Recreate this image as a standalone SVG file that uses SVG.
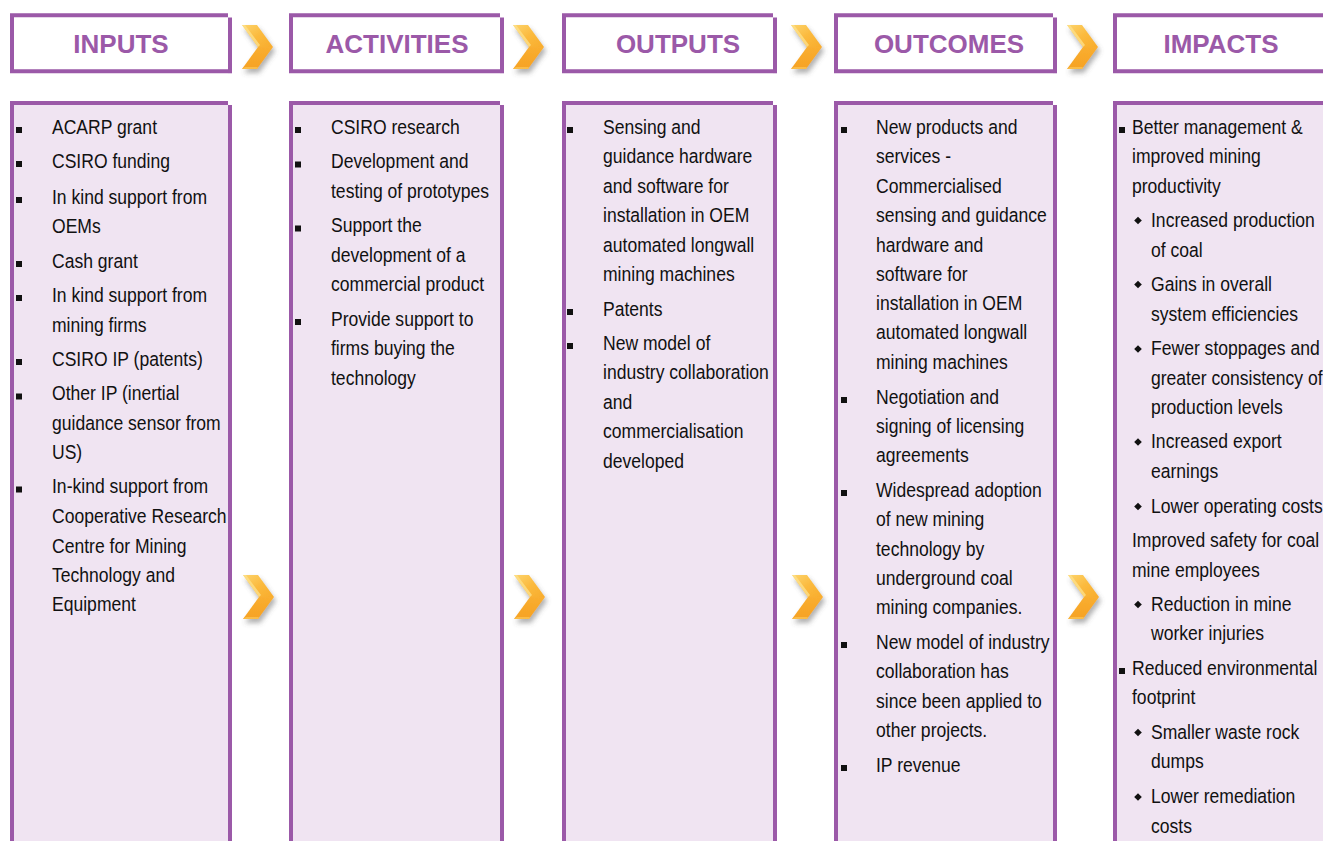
<svg xmlns="http://www.w3.org/2000/svg" width="1323" height="841" viewBox="0 0 1323 841">
<style>
.hb{fill:#ffffff;stroke:#9B59A8;stroke-width:4}
.bb{fill:#F0E4F2;stroke:none}
.ln{stroke:#9B59A8;stroke-width:4;fill:none}
.ht{font-family:"Liberation Sans",Arial,sans-serif;font-weight:bold;font-size:26px;fill:#9B59A8;text-anchor:middle}
.t{font-family:"Liberation Sans",Arial,sans-serif;font-size:19.5px;fill:#111111}
.sq{fill:#111111}
</style>
<defs>
<linearGradient id="gUp" x1="0" y1="0" x2="1" y2="1">
<stop offset="0" stop-color="#FDD46C"/>
<stop offset="0.5" stop-color="#FBBA3E"/>
<stop offset="1" stop-color="#F8AC2C"/>
</linearGradient>
<linearGradient id="gLo" x1="0" y1="0" x2="0" y2="1">
<stop offset="0" stop-color="#F9AE30"/>
<stop offset="1" stop-color="#F6A224"/>
</linearGradient>
<filter id="sh" x="-40%" y="-30%" width="180%" height="170%">
<feDropShadow dx="2" dy="4" stdDeviation="2.5" flood-color="#555555" flood-opacity="0.45"/>
</filter>
<g id="chev">
<g filter="url(#sh)">
<polygon points="0,0 15,0 31,22 16,22" fill="url(#gUp)"/>
<polygon points="16,22 31,22 15,44 0,44" fill="url(#gLo)"/>
<polygon points="0,0 3,0 18,20 16,22" fill="#FDE08A" opacity="0.8"/>
<polygon points="0,44 15,44 16,42 3,42" fill="#FCC857" opacity="0.7"/>
</g>
</g>
<polygon id="dm" points="0,-3.8 3.8,0 0,3.8 -3.8,0" fill="#111111"/>
</defs>
<rect width="1323" height="841" fill="#ffffff"/>

<g id="inputs">
<path class="hb" d="M228,15.3 H12 V71.3 H228"/>
<line class="ln" x1="230" y1="17.5" x2="230" y2="73.3"/>
<text class="ht" x="121" y="53">INPUTS</text>
<rect class="bb" x="12" y="103" width="216" height="740"/>
<path class="ln" d="M228,103 H12 V843"/>
<line class="ln" x1="230" y1="105" x2="230" y2="843"/>
<g class="sq">
<rect x="16" y="127" width="6" height="6"/>
<rect x="16" y="161" width="6" height="6"/>
<rect x="16" y="197" width="6" height="6"/>
<rect x="16" y="261" width="6" height="6"/>
<rect x="16" y="295" width="6" height="6"/>
<rect x="16" y="359" width="6" height="6"/>
<rect x="16" y="393.5" width="6" height="6"/>
<rect x="16" y="486.5" width="6" height="6"/>
</g>
<g transform="translate(52,0) scale(0.9,1)">
<text class="t" x="0" y="134">ACARP grant</text>
<text class="t" x="0" y="168">CSIRO funding</text>
<text class="t" x="0" y="204">In kind support from</text>
<text class="t" x="0" y="233">OEMs</text>
<text class="t" x="0" y="268">Cash grant</text>
<text class="t" x="0" y="302">In kind support from</text>
<text class="t" x="0" y="332">mining firms</text>
<text class="t" x="0" y="366">CSIRO IP (patents)</text>
<text class="t" x="0" y="400.5">Other IP (inertial</text>
<text class="t" x="0" y="430">guidance sensor from</text>
<text class="t" x="0" y="459">US)</text>
<text class="t" x="0" y="493.5">In-kind support from</text>
<text class="t" x="0" y="523.5">Cooperative Research</text>
<text class="t" x="0" y="553">Centre for Mining</text>
<text class="t" x="0" y="582">Technology and</text>
<text class="t" x="0" y="611">Equipment</text>
</g>
</g>

<g id="activities">
<path class="hb" d="M500,15.3 H291 V71.3 H500"/>
<line class="ln" x1="502" y1="17.5" x2="502" y2="73.3"/>
<text class="ht" x="397" y="53">ACTIVITIES</text>
<rect class="bb" x="291" y="103" width="209" height="740"/>
<path class="ln" d="M500,103 H291 V843"/>
<line class="ln" x1="502" y1="105" x2="502" y2="843"/>
<g class="sq">
<rect x="295" y="127" width="6" height="6"/>
<rect x="295" y="161.5" width="6" height="6"/>
<rect x="295" y="225.5" width="6" height="6"/>
<rect x="295" y="319" width="6" height="6"/>
</g>
<g transform="translate(331,0) scale(0.9,1)">
<text class="t" x="0" y="134">CSIRO research</text>
<text class="t" x="0" y="168.5">Development and</text>
<text class="t" x="0" y="198">testing of prototypes</text>
<text class="t" x="0" y="232.5">Support the</text>
<text class="t" x="0" y="262">development of a</text>
<text class="t" x="0" y="291.5">commercial product</text>
<text class="t" x="0" y="326">Provide support to</text>
<text class="t" x="0" y="355.5">firms buying the</text>
<text class="t" x="0" y="385">technology</text>
</g>
</g>

<g id="outputs">
<path class="hb" d="M773,15.3 H564 V71.3 H773"/>
<line class="ln" x1="775" y1="17.5" x2="775" y2="73.3"/>
<text class="ht" x="678" y="53">OUTPUTS</text>
<rect class="bb" x="564" y="103" width="209" height="740"/>
<path class="ln" d="M773,103 H564 V843"/>
<line class="ln" x1="775" y1="105" x2="775" y2="843"/>
<g class="sq">
<rect x="567" y="127" width="6" height="6"/>
<rect x="567" y="309" width="6" height="6"/>
<rect x="567" y="343" width="6" height="6"/>
</g>
<g transform="translate(603,0) scale(0.9,1)">
<text class="t" x="0" y="134">Sensing and</text>
<text class="t" x="0" y="163.5">guidance hardware</text>
<text class="t" x="0" y="193">and software for</text>
<text class="t" x="0" y="222.5">installation in OEM</text>
<text class="t" x="0" y="252">automated longwall</text>
<text class="t" x="0" y="281.5">mining machines</text>
<text class="t" x="0" y="316">Patents</text>
<text class="t" x="0" y="350">New model of</text>
<text class="t" x="0" y="379.5">industry collaboration</text>
<text class="t" x="0" y="409">and</text>
<text class="t" x="0" y="438.5">commercialisation</text>
<text class="t" x="0" y="468">developed</text>
</g>
</g>

<g id="outcomes">
<path class="hb" d="M1053,15.3 H836 V71.3 H1053"/>
<line class="ln" x1="1055" y1="17.5" x2="1055" y2="73.3"/>
<text class="ht" x="949" y="53">OUTCOMES</text>
<rect class="bb" x="836" y="103" width="217" height="740"/>
<path class="ln" d="M1053,103 H836 V843"/>
<line class="ln" x1="1055" y1="105" x2="1055" y2="843"/>
<g class="sq">
<rect x="841" y="127" width="6" height="6"/>
<rect x="841" y="397" width="6" height="6"/>
<rect x="841" y="490" width="6" height="6"/>
<rect x="841" y="642" width="6" height="6"/>
<rect x="841" y="765" width="6" height="6"/>
</g>
<g transform="translate(876,0) scale(0.9,1)">
<text class="t" x="0" y="134">New products and</text>
<text class="t" x="0" y="163.5">services -</text>
<text class="t" x="0" y="193">Commercialised</text>
<text class="t" x="0" y="222.3">sensing and guidance</text>
<text class="t" x="0" y="251.6">hardware and</text>
<text class="t" x="0" y="280.9">software for</text>
<text class="t" x="0" y="310.2">installation in OEM</text>
<text class="t" x="0" y="339.5">automated longwall</text>
<text class="t" x="0" y="368.8">mining machines</text>
<text class="t" x="0" y="404">Negotiation and</text>
<text class="t" x="0" y="433">signing of licensing</text>
<text class="t" x="0" y="462">agreements</text>
<text class="t" x="0" y="497">Widespread adoption</text>
<text class="t" x="0" y="526.3">of new mining</text>
<text class="t" x="0" y="555.6">technology by</text>
<text class="t" x="0" y="584.9">underground coal</text>
<text class="t" x="0" y="614.2">mining companies.</text>
<text class="t" x="0" y="649.2">New model of industry</text>
<text class="t" x="0" y="678.5">collaboration has</text>
<text class="t" x="0" y="707.8">since been applied to</text>
<text class="t" x="0" y="737.1">other projects.</text>
<text class="t" x="0" y="772">IP revenue</text>
</g>
</g>

<g id="impacts">
<path class="hb" d="M1325,15.3 H1115 V71.3 H1325"/>
<text class="ht" x="1221" y="53">IMPACTS</text>
<rect class="bb" x="1115" y="103" width="210" height="740"/>
<path class="ln" d="M1325,103 H1115 V843"/>
<g class="sq">
<rect x="1119" y="127" width="6" height="6"/>
<rect x="1119" y="668" width="6" height="6"/>
</g>
<use href="#dm" x="1138" y="220.5"/>
<use href="#dm" x="1138" y="284.5"/>
<use href="#dm" x="1138" y="349"/>
<use href="#dm" x="1138" y="442"/>
<use href="#dm" x="1138" y="506.5"/>
<use href="#dm" x="1138" y="604.5"/>
<use href="#dm" x="1138" y="732.5"/>
<use href="#dm" x="1138" y="797"/>
<g transform="translate(1132,0) scale(0.9,1)">
<text class="t" x="0" y="134">Better management &amp;</text>
<text class="t" x="0" y="163.5">improved mining</text>
<text class="t" x="0" y="193">productivity</text>
<text class="t" x="0" y="547.5">Improved safety for coal</text>
<text class="t" x="0" y="577">mine employees</text>
<text class="t" x="0" y="675">Reduced environmental</text>
<text class="t" x="0" y="704.5">footprint</text>
</g>
<g transform="translate(1151,0) scale(0.9,1)">
<text class="t" x="0" y="227.5">Increased production</text>
<text class="t" x="0" y="257">of coal</text>
<text class="t" x="0" y="291.5">Gains in overall</text>
<text class="t" x="0" y="321">system efficiencies</text>
<text class="t" x="0" y="355.5">Fewer stoppages and</text>
<text class="t" x="0" y="385">greater consistency of</text>
<text class="t" x="0" y="414">production levels</text>
<text class="t" x="0" y="448.5">Increased export</text>
<text class="t" x="0" y="478">earnings</text>
<text class="t" x="0" y="513">Lower operating costs</text>
<text class="t" x="0" y="611">Reduction in mine</text>
<text class="t" x="0" y="640.5">worker injuries</text>
<text class="t" x="0" y="739">Smaller waste rock</text>
<text class="t" x="0" y="768.5">dumps</text>
<text class="t" x="0" y="803.5">Lower remediation</text>
<text class="t" x="0" y="833">costs</text>
</g>
</g>

<g id="connectors">
<use href="#chev" x="242" y="25"/>
<use href="#chev" x="513" y="25"/>
<use href="#chev" x="791" y="25"/>
<use href="#chev" x="1067" y="25"/>
<use href="#chev" x="243" y="575"/>
<use href="#chev" x="514" y="575"/>
<use href="#chev" x="792" y="575"/>
<use href="#chev" x="1068" y="575"/>
</g>
</svg>
